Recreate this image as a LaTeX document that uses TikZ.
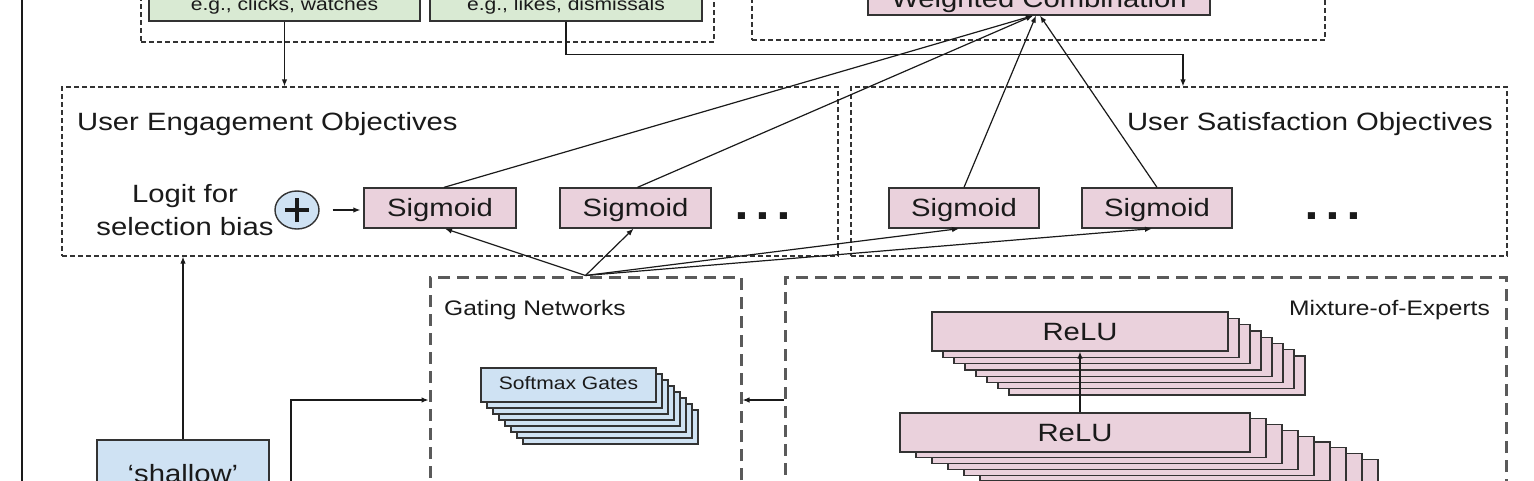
\documentclass[tikz,border=0pt]{standalone}
\usepackage{fontspec}
\setmainfont[FakeStretch=1.17]{Liberation Sans}
\usetikzlibrary{arrows.meta,shapes.geometric}
\definecolor{gfill}{HTML}{D9EAD3}
\definecolor{pfill}{HTML}{EAD1DC}
\definecolor{bfill}{HTML}{CFE2F3}
\definecolor{edge}{HTML}{333333}
\definecolor{dgray}{HTML}{5A5A5A}
\definecolor{ink}{HTML}{1A1A1A}
\begin{document}
\begin{tikzpicture}[x=1pt,y=-1pt,
  >={Latex[length=7pt,width=5.5pt]},
  box/.style={draw=edge, line width=1.3pt, inner sep=0pt, text=ink},
  gbox/.style={box, fill=gfill},
  pbox/.style={box, fill=pfill},
  bbox/.style={box, fill=bfill},
  dashA/.style={draw=edge, line width=1.2pt, dash pattern=on 5pt off 3pt, inner sep=0pt},
  dashB/.style={draw=dgray, line width=3pt, dash pattern=on 12pt off 7pt, inner sep=0pt},
  conn/.style={draw=ink, line width=1.2pt},
  big/.style={font=\fontsize{25}{30}\selectfont, text=ink, inner sep=0pt, text height=20.75pt, text depth=3pt},
  mid/.style={font=\fontsize{21}{25}\selectfont, text=ink, inner sep=0pt},
  small/.style={font=\fontsize{18}{22}\selectfont, text height=13.5pt, text depth=3.6pt},
]
\useasboundingbox (0,0) rectangle (1534,480);
\fill[white] (0,0) rectangle (1534,480);
\clip (0,0) rectangle (1534,480);

% left border line
\coordinate (lbTop) at (22,-10);
\coordinate (lbBot) at (22,490);
\draw[conn] (lbTop) -- (lbBot);

% dashed groups
\node[dashA, minimum width=573pt, minimum height=102pt] (topgrp) at (427.5,-9) {};
\node[dashA, minimum width=573pt, minimum height=100pt] (wgrp) at (1038.5,-10) {};
\node[dashA, minimum width=776pt, minimum height=169pt] (ueo) at (450,171.5) {};
\node[dashA, minimum width=656pt, minimum height=169pt] (uso) at (1179,171.5) {};
\node[dashB, minimum width=311pt, minimum height=253pt] (gate) at (585.5,403.5) {};
\node[dashB, minimum width=721pt, minimum height=253pt] (moe) at (1145.5,403.5) {};

% group labels
\node[big, anchor=base west] (ueoLbl) at (77,130) {User Engagement Objectives};
\node[big, anchor=base east] (usoLbl) at (1493,130) {User Satisfaction Objectives};
\node[mid, anchor=base west] (gateLbl) at (444,315) {Gating Networks};
\node[mid, anchor=base east] (moeLbl) at (1490,315) {Mixture-of-Experts};

% top boxes
\node[gbox, small, minimum width=271pt, minimum height=30pt] (clicks) at (284.5,6) {e.g., clicks, watches};
\node[gbox, small, minimum width=272pt, minimum height=30pt] (likes) at (566,6) {e.g., likes, dismissals};
\node[pbox, big, minimum width=342pt, minimum height=32pt] (wc) at (1039,-1) {Weighted Combination};

% logit text and plus
\node[big, anchor=base] (logitA) at (185,202) {Logit for};
\node[big, anchor=base] (logitB) at (185,235) {selection bias};
\node[ellipse, draw=edge, fill=bfill, line width=1.4pt, minimum width=44pt, minimum height=38pt, inner sep=0pt] (plus) at (297,210) {};
\draw[line width=4.4pt, ink] ([xshift=-12pt]plus.center) -- ([xshift=12pt]plus.center);
\draw[line width=4.4pt, ink] ([yshift=-12pt]plus.center) -- ([yshift=12pt]plus.center);

% sigmoids
\node[pbox, big, minimum width=152pt, minimum height=40pt] (s1) at (440,208) {Sigmoid};
\node[pbox, big, minimum width=151pt, minimum height=40pt] (s2) at (635.5,208) {Sigmoid};
\node[pbox, big, minimum width=150pt, minimum height=40pt] (s3) at (964,208) {Sigmoid};
\node[pbox, big, minimum width=150pt, minimum height=40pt] (s4) at (1157,208) {Sigmoid};
\node[font=\fontsize{64}{70}\selectfont, text=ink, inner sep=0pt, anchor=base] (dotsA) at (763,219) {...};
\node[font=\fontsize{64}{70}\selectfont, text=ink, inner sep=0pt, anchor=base] (dotsB) at (1333,219) {...};

% softmax stack
\foreach \i in {7,6,...,1}
  \node[bbox, minimum width=175pt, minimum height=34pt] (sm\i) at (568.5+6*\i, 385+6*\i) {};
\node[bbox, small, minimum width=175pt, minimum height=34pt] (sm) at (568.5,385) {Softmax Gates};

% relu stacks
\foreach \i in {7,6,...,1}
  \node[pbox, minimum width=296pt, minimum height=39pt] (ra\i) at (1080+11*\i, 331.5+6.3*\i) {};
\node[pbox, big, minimum width=296pt, minimum height=39pt] (relu1) at (1080,331.5) {ReLU};
\foreach \i in {8,7,...,1}
  \node[pbox, minimum width=350pt, minimum height=39pt] (rb\i) at (1075+16*\i, 432.5+5.8*\i) {};
\node[pbox, big, minimum width=350pt, minimum height=39pt] (relu2) at (1075,432.5) {ReLU};

% shallow
\node[bbox, big, minimum width=172pt, minimum height=68pt] (shallow) at (183,474.1) {‘shallow’};

% connectors
\draw[conn,->] (clicks.south) -- (clicks.south |- ueo.north);
\draw[conn,->] (likes.south) -- ++(0,33) -| ([xshift=4pt]uso.north);

\draw[conn,->] ([xshift=4pt]s1.north) -- ([xshift=-6pt]wc.south);
\draw[conn,->] ([xshift=2pt]s2.north) -- ([xshift=-6pt]wc.south);
\draw[conn,->] (s3.north) -- ([xshift=-3pt]wc.south);
\draw[conn,->] (s4.north) -- ([xshift=1pt]wc.south);

\draw[conn,->] (gate.north) -- ([xshift=5pt]s1.south);
\draw[conn,->] (gate.north) -- ([xshift=-2pt]s2.south);
\draw[conn,->] (gate.north) -- ([xshift=-5pt]s3.south);
\draw[conn,->] (gate.north) -- ([xshift=-5pt]s4.south);

\coordinate (ps) at ([xshift=13pt]plus.east);
\draw[conn,->, shorten >=3pt] (ps) -- (ps -| s1.west);

\draw[conn,->] (shallow.north) -- (shallow.north |- ueo.south);

\coordinate (inL) at (291,490);
\draw[conn,->] (inL) |- ([yshift=3.5pt]gate.west);
\draw[conn,->] ([yshift=3.5pt]moe.west) -- ([yshift=3.5pt]gate.east);

\draw[conn,->] (relu1.south |- relu2.north) -- (relu1.south);
\end{tikzpicture}
\end{document}
